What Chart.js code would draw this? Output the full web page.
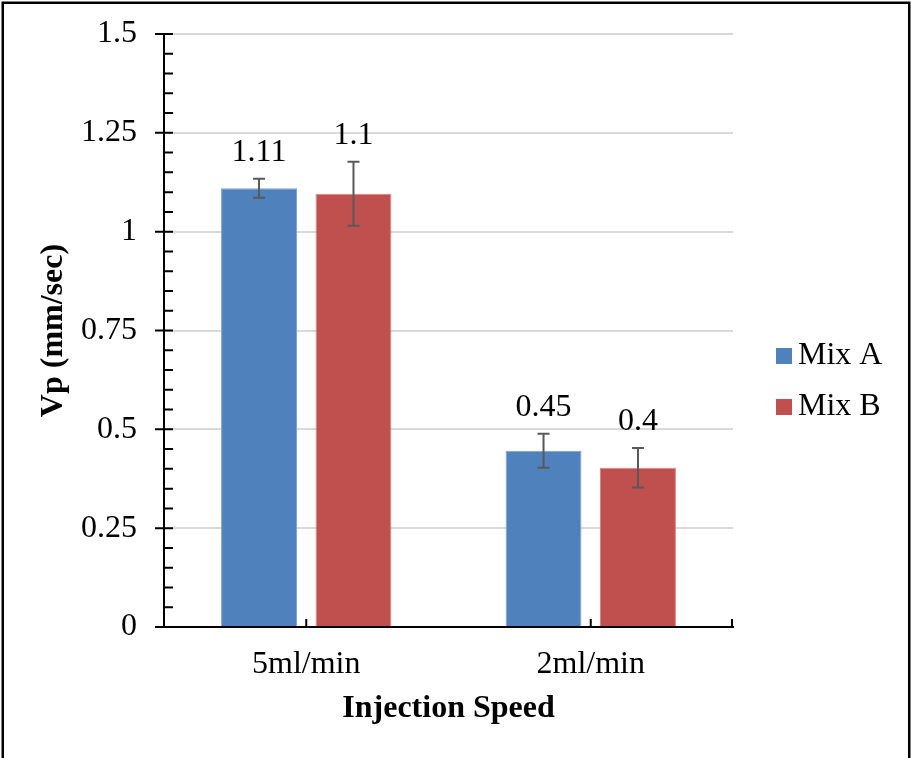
<!DOCTYPE html>
<html><head><meta charset="utf-8">
<script src="https://cdn.jsdelivr.net/npm/chart.js@4.4.0/dist/chart.umd.min.js"></script>
<style>html,body{margin:0;padding:0;background:#fff;overflow:hidden;} canvas{display:block;}</style>
</head><body>
<canvas id="c" width="911" height="758"></canvas>
<script>
// ---- data ----
const categories = ['5ml/min', '2ml/min'];
const seriesNames = ['Mix A', 'Mix B'];
const mixA = [1.110, 0.446];
const mixB = [1.096, 0.403];
const errA = [0.024, 0.043];
const errB = [0.081, 0.050];
const yTickLabels = ['0', '0.25', '0.5', '0.75', '1', '1.25', '1.5'];
const xTitle = 'Injection Speed';
const yTitle = 'Vp (mm/sec)';

const FONT = "'Liberation Serif', 'Times New Roman', serif";
const seriesColors = ['#4F81BD', '#C0504D'];
const seriesBorders = ['#7FA3D2', '#D78482'];
const errors = [errA, errB];

const framePlugin = {
  id: 'frame',
  beforeDraw(chart) {
    const ctx = chart.ctx;
    ctx.save();
    ctx.fillStyle = '#fff';
    ctx.fillRect(0, 0, chart.width, chart.height);
    ctx.restore();
  },
  afterDraw(chart) {
    const ctx = chart.ctx;
    ctx.save();
    ctx.strokeStyle = '#000';
    ctx.lineWidth = 2.5;
    ctx.strokeRect(2.75, 2.75, 906.5, 800);
    ctx.restore();
  }
};

const errorPlugin = {
  id: 'errorBars',
  afterDatasetsDraw(chart) {
    const ctx = chart.ctx;
    const y = chart.scales.y;
    ctx.save();
    chart.data.datasets.forEach((ds, i) => {
      const meta = chart.getDatasetMeta(i);
      meta.data.forEach((bar, j) => {
        const v = ds.data[j];
        const e = errors[i][j];
        const yt = y.getPixelForValue(v + e);
        const yb = y.getPixelForValue(v - e);
        ctx.strokeStyle = '#595959';
        ctx.lineWidth = 2;
        ctx.beginPath();
        ctx.moveTo(bar.x, yt); ctx.lineTo(bar.x, yb);
        ctx.moveTo(bar.x - 6, yt); ctx.lineTo(bar.x + 6, yt);
        ctx.moveTo(bar.x - 6, yb); ctx.lineTo(bar.x + 6, yb);
        ctx.stroke();
        ctx.fillStyle = '#000';
        ctx.font = '32px ' + FONT;
        ctx.textAlign = 'center';
        ctx.textBaseline = 'alphabetic';
        ctx.fillText(String(parseFloat(v.toFixed(2))), bar.x, yt - 18);
      });
    });
    ctx.restore();
  }
};

const axisTickPlugin = {
  id: 'axisTicks',
  afterDraw(chart) {
    const ctx = chart.ctx;
    const {left, right, bottom} = chart.chartArea;
    const y = chart.scales.y;
    const x = chart.scales.x;
    ctx.save();
    ctx.strokeStyle = '#000';
    ctx.lineWidth = 2;
    ctx.beginPath();
    const ticks = y.ticks;
    for (let k = 0; k < ticks.length; k++) {
      const py = y.getPixelForValue(ticks[k].value);
      ctx.moveTo(left - 9, py); ctx.lineTo(left + 9, py);
      if (k < ticks.length - 1) {
        const v0 = ticks[k].value, v1 = ticks[k + 1].value;
        for (let m = 1; m < 5; m++) {
          const pm = y.getPixelForValue(v0 + (v1 - v0) * m / 5);
          ctx.moveTo(left, pm); ctx.lineTo(left + 9, pm);
        }
      }
    }
    categories.forEach((c, i) => {
      const px = x.getPixelForValue(i);
      ctx.moveTo(px, bottom); ctx.lineTo(px, bottom - 8);
    });
    ctx.moveTo(right - 1, bottom); ctx.lineTo(right - 1, bottom - 8);
    ctx.stroke();
    ctx.restore();
  }
};

const legendPlugin = {
  id: 'customLegend',
  afterDraw(chart) {
    const ctx = chart.ctx;
    const {right} = chart.chartArea;
    ctx.save();
    ctx.font = '32px ' + FONT;
    ctx.textAlign = 'left';
    ctx.textBaseline = 'middle';
    chart.data.datasets.forEach((ds, i) => {
      const cy = 356 + i * 51;
      ctx.fillStyle = ds.backgroundColor;
      ctx.fillRect(right + 43, cy - 8, 16, 16);
      ctx.fillStyle = '#000';
      ctx.fillText(ds.label, right + 65, cy);
    });
    ctx.restore();
  }
};

new Chart(document.getElementById('c'), {
  type: 'bar',
  data: {
    labels: categories,
    datasets: [
      { label: seriesNames[0], data: mixA, backgroundColor: seriesColors[0], borderColor: seriesBorders[0], borderWidth: 1 },
      { label: seriesNames[1], data: mixB, backgroundColor: seriesColors[1], borderColor: seriesBorders[1], borderWidth: 1 }
    ]
  },
  options: {
    responsive: false,
    animation: false,
    categoryPercentage: 0.664,
    barPercentage: 0.804,
    layout: { padding: { left: 0, top: 34, right: 178, bottom: 0 } },
    plugins: { legend: { display: false }, tooltip: { enabled: false } },
    scales: {
      x: {
        afterFit(s) { s.height = 131; },
        grid: { display: true, drawOnChartArea: false, drawTicks: false },
        border: { display: true, color: '#000', width: 2 },
        ticks: { padding: 18, color: '#000', font: { family: FONT, size: 32, lineHeight: 1.2 } },
        title: { display: true, text: xTitle, color: '#000', padding: { top: 0, bottom: 30 },
                 font: { family: FONT, size: 32, weight: 'bold', lineHeight: 1.2 } }
      },
      y: {
        min: 0, max: 1.5,
        afterFit(s) { s.width = 164; s.paddingTop = 0; s.paddingBottom = 0; },
        grid: { color: '#D9D9D9', lineWidth: 2, drawTicks: false },
        border: { display: true, color: '#000', width: 2 },
        ticks: { stepSize: 0.25, padding: 27, color: '#000',
                 font: { family: FONT, size: 32, lineHeight: 1.2 },
                 callback: (v, i) => yTickLabels[i] },
        title: { display: true, text: yTitle, color: '#000', padding: { top: 34.8, bottom: 0 },
                 font: { family: FONT, size: 32, weight: 'bold', lineHeight: 1.2 } }
      }
    }
  },
  plugins: [framePlugin, errorPlugin, axisTickPlugin, legendPlugin]
});
</script>
</body></html>
